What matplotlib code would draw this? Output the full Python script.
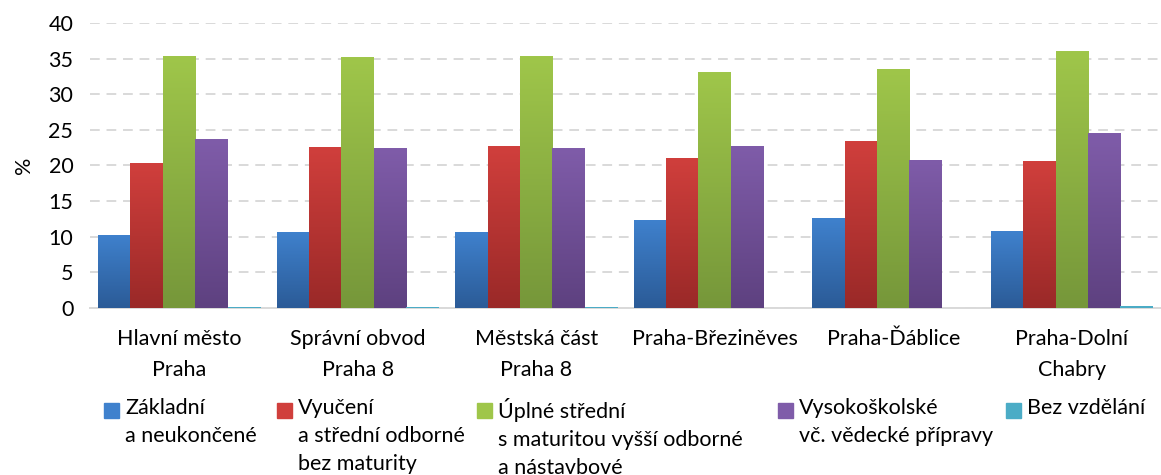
import numpy as np
import matplotlib
matplotlib.use("Agg")
import matplotlib.pyplot as plt
from matplotlib.colors import LinearSegmentedColormap
from matplotlib.patches import Rectangle

categories = ["Hlavní město\nPraha", "Správní obvod\nPraha 8", "Městská část\nPraha 8",
              "Praha-Březiněves", "Praha-Ďáblice", "Praha-Dolní\nChabry"]
series = ["Základní\na neukončené",
          "Vyučení\na střední odborné\nbez maturity",
          "Úplné střední\ns maturitou vyšší odborné\na nástavbové",
          "Vysokoškolské\nvč. vědecké přípravy",
          "Bez vzdělání"]

zakladni = [10.3, 10.7, 10.6, 12.4, 12.6, 10.8]
vyuceni = [20.3, 22.6, 22.7, 21.1, 23.4, 20.6]
uplne = [35.4, 35.2, 35.3, 33.1, 33.6, 36.0]
vysoko = [23.7, 22.4, 22.4, 22.8, 20.8, 24.5]
bez = [0.1, 0.1, 0.1, 0.0, 0.0, 0.3]
values = [zakladni, vyuceni, uplne, vysoko, bez]

# (top, bottom) gradient colours
COLORS = [("#3f81cd", "#2b5b97"),
          ("#d03f3c", "#9a2928"),
          ("#9fc64a", "#76973a"),
          ("#7f5ca9", "#5e4180"),
          ("#4bacc6", "#4bacc6")]

FONT = "Lato"
FS = 15.5

plt.rcParams["font.family"] = [FONT, "DejaVu Sans"]

fig = plt.figure(figsize=(11.61, 4.75), dpi=100)
ax = fig.add_axes([0.0775, 0.3516, 0.9225, 0.6])

x = np.arange(len(categories))
bw = 0.182
offsets = (np.arange(len(series)) - 2) * bw

for i, vals in enumerate(values):
    top, bot = COLORS[i]
    bars = ax.bar(x + offsets[i], vals, bw, color=top, linewidth=0, zorder=2)
    cmap = LinearSegmentedColormap.from_list(f"g{i}", [bot, top])
    grad = np.linspace(0, 1, 100).reshape(-1, 1)
    for b in bars:
        h = b.get_height()
        if h <= 0:
            continue
        im = ax.imshow(grad, cmap=cmap, origin="lower", aspect="auto",
                       extent=[b.get_x(), b.get_x() + b.get_width(), 0, h], zorder=3)
        im.set_clip_path(b)

ax.set_xlim(-0.5, len(categories) - 0.5)
ax.set_ylim(0, 40)
ax.set_yticks(np.arange(0, 41, 5))
ax.set_xticks(x)
ax.set_xticklabels(categories, fontsize=FS, linespacing=1.7)
ax.tick_params(axis="y", labelsize=FS, length=0, pad=12)
ax.tick_params(axis="x", length=0, pad=15)
ax.yaxis.grid(True, color="#d9d9d9", linestyle=(0, (5, 3.5)), linewidth=1.4, zorder=0)
ax.set_axisbelow(True)
for s in ["top", "right", "left"]:
    ax.spines[s].set_visible(False)
ax.spines["bottom"].set_color("#d9d9d9")
ax.spines["bottom"].set_linewidth(1.4)
ax.spines["bottom"].set_zorder(1)
ax.set_ylabel("%", fontsize=FS, labelpad=10)

# legend, drawn by hand so the square sits next to the first line
leg_x = [104, 277, 477, 778, 1006]
W, H = 1161, 475
for i, lab in enumerate(series):
    fig.patches.append(Rectangle((leg_x[i] / W, 1 - 418 / H), 15 / W, 15 / H,
                                 transform=fig.transFigure, color=COLORS[i][0]))
    fig.text((leg_x[i] + 21) / W, 1 - 398 / H, lab, fontsize=FS, ha="left", va="top",
             linespacing=1.5)

fig.savefig("out.png", dpi=100)
